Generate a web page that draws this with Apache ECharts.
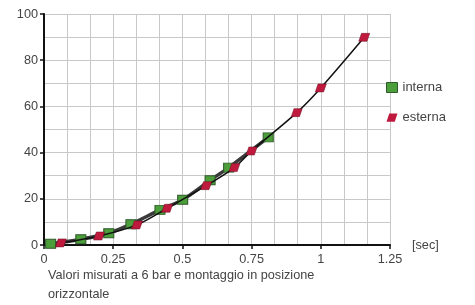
<!DOCTYPE html>
<html>
<head>
<meta charset="utf-8">
<script src="https://cdn.jsdelivr.net/npm/echarts@6/dist/echarts.min.js"></script>
<style>
  html, body { margin: 0; padding: 0; background: #fff; }
  #chart { width: 475px; height: 305px; }
</style>
</head>
<body>
<div id="chart"></div>
<script>
// valori (tempo [sec], valore)
var internaT = [0.024, 0.133, 0.234, 0.314, 0.419, 0.501, 0.600, 0.667, 0.810];
var internaV = [0.5, 2.5, 5.1, 9.0, 15.2, 19.6, 28.0, 33.5, 46.6];
var esternaT = [0.061, 0.199, 0.336, 0.445, 0.586, 0.688, 0.750, 0.913, 1.000, 1.157];
var esternaV = [0.9, 3.9, 8.7, 15.9, 25.7, 33.5, 40.7, 57.3, 68.0, 89.9];
var seriesNames = ['interna', 'esterna'];
var caption = 'Valori misurati a 6 bar e montaggio in posizione\norizzontale';

var font = 'Liberation Sans';
var fs = 12.7;
var green = '#4c9e3a';
var red = '#bf1a3e';
var para = 'path://M1,0 L4,0 L3,3 L0,3 Z';

function pairs(t, v) {
    return t.map(function (x, i) { return [x, v[i]]; });
}

var chart = echarts.init(document.getElementById('chart'));
chart.setOption({
    animation: false,
    grid: { left: 44, right: 85, top: 14, bottom: 60 },
    legend: {
        orient: 'vertical',
        left: 381,
        top: 76,
        itemGap: 17,
        itemWidth: 11,
        itemHeight: 10,
        textStyle: { fontFamily: font, fontSize: 13, color: '#444' },
        data: [
            { name: seriesNames[0], icon: 'rect', itemStyle: { color: green, borderColor: '#2e5a28', borderWidth: 1 } },
            { name: seriesNames[1], icon: para, itemStyle: { color: red, borderWidth: 0 } }
        ]
    },
    xAxis: {
        type: 'value',
        min: 0,
        max: 1.25,
        interval: 0.25,
        name: '[sec]',
        nameLocation: 'end',
        nameGap: 22,
        nameTextStyle: { fontFamily: font, fontSize: fs, color: '#444', verticalAlign: 'middle', padding: [0, 0, 4, 0] },
        axisLine: { lineStyle: { color: '#111', width: 2 } },
        axisTick: { show: true, length: 4, lineStyle: { color: '#111', width: 1.5 } },
        axisLabel: { fontFamily: font, fontSize: fs, color: '#444', margin: 8, formatter: function (v) { return String(v); } },
        splitLine: { show: true, lineStyle: { color: '#c8c8c8', width: 1 } },
        minorTick: { show: false, splitNumber: 3 },
        minorSplitLine: { show: true, lineStyle: { color: '#c8c8c8', width: 1 } }
    },
    yAxis: {
        type: 'value',
        min: 0,
        max: 100,
        interval: 20,
        axisLine: { show: true, lineStyle: { color: '#111', width: 2 } },
        axisTick: { show: true, length: 4, lineStyle: { color: '#111', width: 1.5 } },
        axisLabel: { fontFamily: font, fontSize: fs, color: '#444', margin: 6 },
        splitLine: { show: true, lineStyle: { color: '#c8c8c8', width: 1 } },
        minorTick: { show: false, splitNumber: 2 },
        minorSplitLine: { show: true, lineStyle: { color: '#c8c8c8', width: 1 } }
    },
    graphic: [{
        type: 'text',
        left: 48,
        top: 266,
        style: { text: caption, fontFamily: font, fontSize: fs, fill: '#444', lineHeight: 19 }
    }],
    series: [
        {
            name: seriesNames[0],
            type: 'line',
            smooth: 0.3,
            data: pairs(internaT, internaV),
            symbol: 'rect',
            symbolSize: [10, 9],
            lineStyle: { color: '#3a3a3a', width: 3.5 },
            itemStyle: { color: green, borderColor: '#2e5a28', borderWidth: 1 },
            z: 3
        },
        {
            name: seriesNames[1],
            type: 'line',
            smooth: 0.3,
            data: pairs(esternaT, esternaV),
            symbol: para,
            symbolSize: [11, 8],
            lineStyle: { color: '#111', width: 1.5 },
            itemStyle: { color: red, borderColor: '#6a0f22', borderWidth: 0.5 },
            z: 4
        }
    ]
});
window.addEventListener('resize', function () { chart.resize(); });
</script>
</body>
</html>
